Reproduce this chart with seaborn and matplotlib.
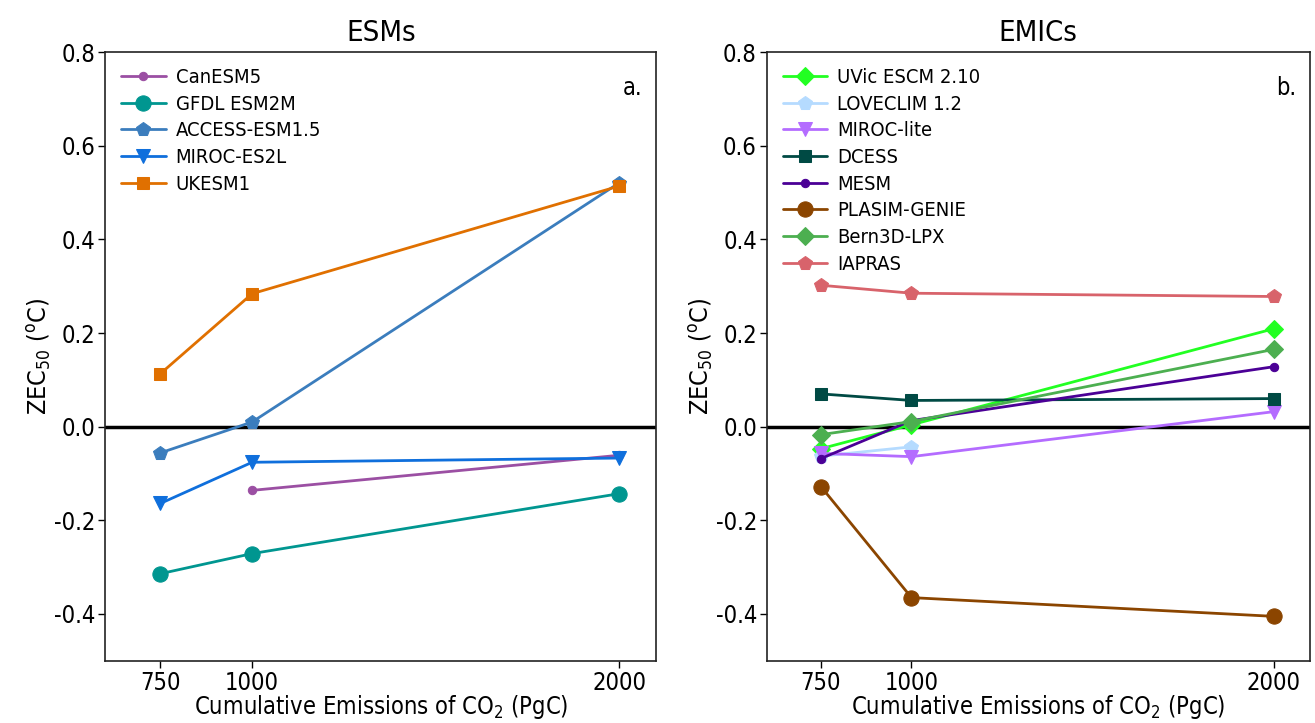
import matplotlib
matplotlib.use('Agg')
import matplotlib.pyplot as plt
import seaborn as sns
import pandas as pd
import numpy as np

# cumulative emissions (PgC)
emissions = [750, 1000, 2000]

# --- ESMs (ZEC50, degC), nan = no run ---
esm_names = ['CanESM5', 'GFDL ESM2M', 'ACCESS-ESM1.5', 'MIROC-ES2L', 'UKESM1']
canesm5 = [np.nan, -0.136, -0.061]
gfdl_esm2m = [-0.314, -0.271, -0.143]
access_esm15 = [-0.056, 0.010, 0.521]
miroc_es2l = [-0.164, -0.076, -0.067]
ukesm1 = [0.113, 0.284, 0.514]

# --- EMICs ---
emic_names = ['UVic ESCM 2.10', 'LOVECLIM 1.2', 'MIROC-lite', 'DCESS', 'MESM',
              'PLASIM-GENIE', 'Bern3D-LPX', 'IAPRAS']
uvic = [-0.047, 0.004, 0.209]
loveclim = [-0.063, -0.043, np.nan]
miroc_lite = [-0.057, -0.064, 0.032]
dcess = [0.070, 0.056, 0.060]
mesm = [-0.068, 0.013, 0.128]
plasim_genie = [-0.128, -0.365, -0.405]
bern3d_lpx = [-0.017, 0.011, 0.165]
iapras = [0.302, 0.285, 0.278]

esm_vals = [canesm5, gfdl_esm2m, access_esm15, miroc_es2l, ukesm1]
emic_vals = [uvic, loveclim, miroc_lite, dcess, mesm, plasim_genie, bern3d_lpx, iapras]

esm_style = {
    'CanESM5': ('#9b4fa3', 'o', 6),
    'GFDL ESM2M': ('#009690', 'o', 11),
    'ACCESS-ESM1.5': ('#3b7dbd', 'p', 10),
    'MIROC-ES2L': ('#0f6fdc', 'v', 10),
    'UKESM1': ('#e07000', 's', 9),
}
emic_style = {
    'UVic ESCM 2.10': ('#22ff22', 'D', 9),
    'LOVECLIM 1.2': ('#b5dbff', 'p', 10),
    'MIROC-lite': ('#b46cff', 'v', 10),
    'DCESS': ('#004a44', 's', 9),
    'MESM': ('#4b0096', 'o', 6),
    'PLASIM-GENIE': ('#8b4500', 'o', 11),
    'Bern3D-LPX': ('#4caf50', 'D', 9),
    'IAPRAS': ('#d8636b', 'p', 10),
}

sns.set_style('ticks')
plt.rcParams['font.family'] = ['DejaVu Sans']
plt.rcParams['font.stretch'] = 'condensed'
plt.rcParams['mathtext.default'] = 'regular'
plt.rcParams['axes.unicode_minus'] = False
plt.rcParams['text.color'] = 'black'

fig = plt.figure(figsize=(13.15, 7.23), dpi=100)
ax1 = fig.add_axes([0.080, 0.086, 0.419, 0.842])
ax2 = fig.add_axes([0.583, 0.086, 0.413, 0.842])


def draw_panel(ax, names, vals, styles, title, tag):
    for name, v in zip(names, vals):
        df = pd.DataFrame({'em': emissions, 'zec': v}).dropna()
        color, marker, ms = styles[name]
        sns.lineplot(data=df, x='em', y='zec', ax=ax, color=color, marker=marker,
                     markersize=ms, markeredgecolor=color, linewidth=2, label=name)
    ax.axhline(0, color='black', linewidth=2.5, zorder=0)
    ax.set_xlim(600, 2100)
    ax.set_ylim(-0.5, 0.8)
    ax.set_xticks(emissions)
    ax.set_yticks([-0.4, -0.2, 0.0, 0.2, 0.4, 0.6, 0.8])
    ax.tick_params(labelsize=17, length=5, width=1, colors='black', pad=2)
    for s in ax.spines.values():
        s.set_color('#222222')
        s.set_linewidth(1.2)
    ax.set_title(title, fontsize=21, pad=8, color='black')
    ax.set_xlabel('Cumulative Emissions of CO$_2$ (PgC)', fontsize=17, labelpad=-1, color='black')
    ax.set_ylabel('ZEC$_{50}$ ($^o$C)', fontsize=18, labelpad=0, color='black')
    leg = ax.legend(loc='upper left', frameon=False, fontsize=14.5, handlelength=2.2,
                    handletextpad=0.5, borderaxespad=0.4, labelspacing=0.38)
    for t in leg.get_texts():
        t.set_color('black')
    ax.text(0.975, 0.96, tag, transform=ax.transAxes, ha='right', va='top', fontsize=17)


draw_panel(ax1, esm_names, esm_vals, esm_style, 'ESMs', 'a.')
draw_panel(ax2, emic_names, emic_vals, emic_style, 'EMICs', 'b.')

fig.savefig('out.png', dpi=100)
